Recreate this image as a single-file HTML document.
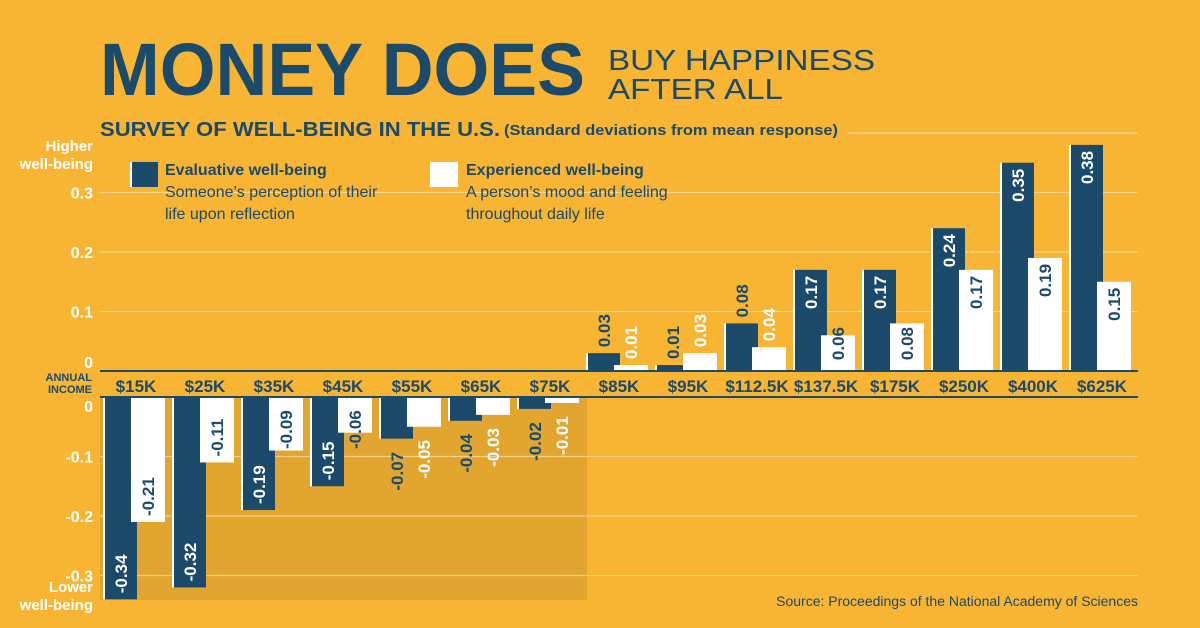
<!DOCTYPE html>
<html><head><meta charset="utf-8"><style>
html,body{margin:0;padding:0;background:#F8B534;}
svg{display:block;font-family:"Liberation Sans",sans-serif;}
</style></head><body>
<svg id="chart" width="1200" height="628" viewBox="0 0 1200 628">
<rect x="0" y="0" width="1200" height="628" fill="#F8B534"/>
<text x="100" y="95" font-size="74" font-weight="bold" fill="#1B4A6B" textLength="485" lengthAdjust="spacingAndGlyphs">MONEY DOES</text>
<text x="608" y="70" font-size="29" fill="#1B4A6B" textLength="267" lengthAdjust="spacingAndGlyphs">BUY HAPPINESS</text>
<text x="608" y="99" font-size="29" fill="#1B4A6B" textLength="175" lengthAdjust="spacingAndGlyphs">AFTER ALL</text>
<text x="100" y="136" font-size="20" font-weight="bold" fill="#1B4A6B" textLength="400" lengthAdjust="spacingAndGlyphs">SURVEY OF WELL-BEING IN THE U.S.</text>
<text x="504" y="135" font-size="15" font-weight="bold" fill="#1B4A6B" textLength="334" lengthAdjust="spacingAndGlyphs">(Standard deviations from mean response)</text>
<line x1="848" y1="133" x2="1138" y2="133" stroke="#FAD48C" stroke-width="1.5"/>
<rect x="100" y="397" width="487" height="203" fill="#E2A530"/>
<g id="grid"></g>
<g id="bars"></g>
<g id="labels"></g>
<g>
<rect x="130" y="162" width="28" height="25" fill="#1B4A6B"/>
<rect x="130" y="162" width="2" height="25" fill="#fff"/>
<text x="165" y="175" font-size="16" font-weight="bold" fill="#1B4A6B">Evaluative well-being</text>
<text x="165" y="197" font-size="16" fill="#1B4A6B">Someone’s perception of their</text>
<text x="165" y="219" font-size="16" fill="#1B4A6B">life upon reflection</text>
<rect x="430" y="162" width="28" height="25" fill="#fff"/>
<text x="466" y="175" font-size="16" font-weight="bold" fill="#1B4A6B">Experienced well-being</text>
<text x="466" y="197" font-size="16" fill="#1B4A6B">A person’s mood and feeling</text>
<text x="466" y="219" font-size="16" fill="#1B4A6B">throughout daily life</text>
</g>
<text x="93" y="151" font-size="15" font-weight="bold" fill="#fff" text-anchor="end">Higher</text>
<text x="93" y="169" font-size="15" font-weight="bold" fill="#fff" text-anchor="end">well-being</text>
<text x="93" y="592" font-size="15" font-weight="bold" fill="#fff" text-anchor="end">Lower</text>
<text x="93" y="610" font-size="15" font-weight="bold" fill="#fff" text-anchor="end">well-being</text>
<text x="92" y="381" font-size="11" font-weight="bold" fill="#1B4A6B" text-anchor="end">ANNUAL</text>
<text x="92" y="393" font-size="11" font-weight="bold" fill="#1B4A6B" text-anchor="end">INCOME</text>
<line x1="100" y1="371" x2="1138" y2="371" stroke="#1B4A6B" stroke-width="2"/>
<line x1="100" y1="397" x2="1138" y2="397" stroke="#1B4A6B" stroke-width="2"/>
<text x="1138" y="606" font-size="14" fill="#1B4A6B" text-anchor="end">Source: Proceedings of the National Academy of Sciences</text>
</svg>
<script>
const categories = ["$15K","$25K","$35K","$45K","$55K","$65K","$75K","$85K","$95K","$112.5K","$137.5K","$175K","$250K","$400K","$625K"];
const evaluative = [-0.34,-0.32,-0.19,-0.15,-0.07,-0.04,-0.02,0.03,0.01,0.08,0.17,0.17,0.24,0.35,0.38];
const experienced = [-0.21,-0.11,-0.09,-0.06,-0.05,-0.03,-0.01,0.01,0.03,0.04,0.06,0.08,0.17,0.19,0.15];
const upperTicks = [0,0.1,0.2,0.3];
const lowerTicks = [0,-0.1,-0.2,-0.3];

const NS="http://www.w3.org/2000/svg";
const NAVY="#1B4A6B";
const pxPer = 595;
const zeroUp = 371, zeroDown = 397;
function xScale(i){ return 105 + i*69; }
function yLen(v){ return Math.abs(v)*pxPer; }
function yTickUp(v){ return zeroUp - v*pxPer; }
function yTickDown(v){ return zeroDown - v*pxPer; }
function mk(tag, attrs, parent){ const e=document.createElementNS(NS,tag); for(const k in attrs) e.setAttribute(k,attrs[k]); parent.appendChild(e); return e; }
const grid=document.getElementById('grid'), bars=document.getElementById('bars'), labels=document.getElementById('labels');

upperTicks.forEach(t=>{
  const y=yTickUp(t);
  if(t!==0){ const l=mk('line',{x1:100,x2:1138,y1:y,y2:y,stroke:'#FAD48C','stroke-width':1.2},grid);
    
     }
  const tx=mk('text',{x:93,y:(t===0?y-3:y+6),'font-size':16,'font-weight':'bold',fill:'#fff','text-anchor':'end'},grid);
  tx.textContent = t===0?'0':t.toFixed(1);
  
  
});
lowerTicks.forEach(t=>{
  const y=yTickDown(t);
  if(t!==0){ const l=mk('line',{x1:100,x2:1138,y1:y,y2:y,stroke:'#F5CF83','stroke-width':1.2},grid);
    
     }
  const tx=mk('text',{x:93,y:(t===0?y+15:y+6),'font-size':16,'font-weight':'bold',fill:'#fff','text-anchor':'end'},grid);
  tx.textContent = t===0?'0':t.toFixed(1);
  
  
});

function drawBar(i, v, series){
  const dark = series==='evaluative';
  const x = xScale(i) + (dark?0:26);
  const w = dark?32:34;
  const h = yLen(v);
  const pos = v>=0;
  const y = pos ? zeroUp - h : zeroDown;
  const r=mk('rect',{x:x,y:y,width:w,height:h,fill:dark?NAVY:'#fff'},bars);
  
  
  if(dark){ const e=mk('rect',{x:x-2,y:y,width:2,height:h,fill:'#fff'},bars);
    
     }
  const txt = (v<0?'-':'') + Math.abs(v).toFixed(2);
  const tl = v<0?48:38;
  const thr = dark?0.09:0.055;
  const outside = Math.abs(v)<thr;
  const cx = x + w/2 + 6;
  const t=mk('text',{'font-size':17,'font-weight':'bold',x:0,y:0},labels);
  t.textContent = txt;
  if(pos){
    if(outside){
      t.setAttribute('fill', dark?NAVY:'#fff');
      t.setAttribute('text-anchor','start');
      t.setAttribute('transform','translate('+cx+','+(zeroUp - h - 6)+') rotate(-90)');
    } else {
      t.setAttribute('fill', dark?'#fff':NAVY);
      t.setAttribute('text-anchor','end');
      const top = Math.min(zeroUp - h + 6, zeroUp - 6 - tl);
      t.setAttribute('transform','translate('+cx+','+top+') rotate(-90)');
    }
  } else {
    let bottom;
    if(outside){ bottom = zeroDown + h + 4 + tl; t.setAttribute('fill', dark?NAVY:'#fff'); }
    else { bottom = Math.max(zeroDown + h - 6, zeroDown + 4 + tl); t.setAttribute('fill', dark?'#fff':NAVY); }
    t.setAttribute('text-anchor','start');
    t.setAttribute('transform','translate('+cx+','+bottom+') rotate(-90)');
  }
  
  
}
categories.forEach((c,i)=>{ drawBar(i, evaluative[i], 'evaluative'); });
categories.forEach((c,i)=>{ drawBar(i, experienced[i], 'experienced'); });
categories.forEach((c,i)=>{
  const tx=mk('text',{x:xScale(i)+31,y:392,'font-size':17,'font-weight':'bold',fill:NAVY,'text-anchor':'middle'},labels);
  tx.textContent=c;
  
  
});
</script>
</body></html>
